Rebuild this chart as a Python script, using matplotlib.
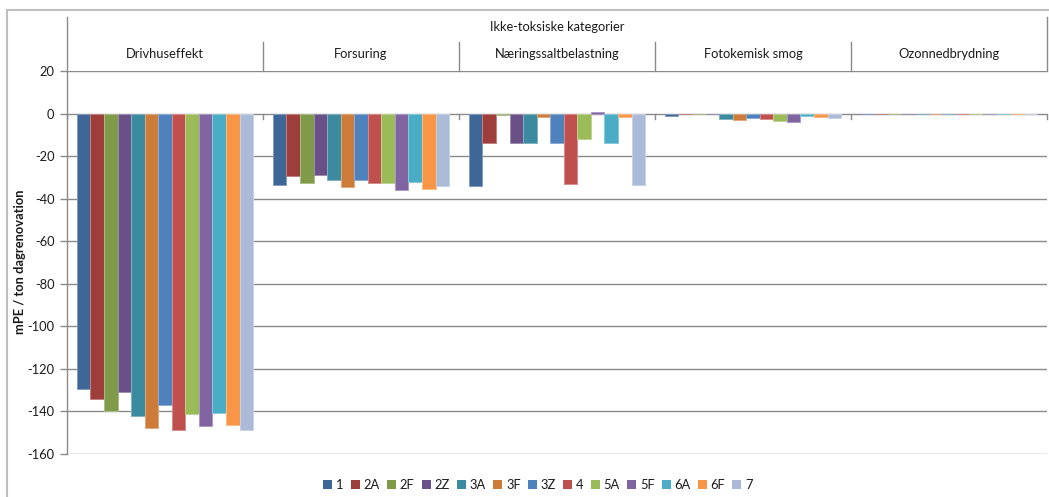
import matplotlib
matplotlib.use("Agg")
import matplotlib.pyplot as plt
from matplotlib.lines import Line2D
from matplotlib.patches import Rectangle, Patch
import matplotlib.transforms as mtransforms
import numpy as np

plt.rcParams['font.family'] = ['Lato', 'DejaVu Sans']

# ---- data -------------------------------------------------------------
group_title = "Ikke-toksiske kategorier"
categories = ["Drivhuseffekt", "Forsuring", "Næringssaltbelastning",
              "Fotokemisk smog", "Ozonnedbrydning"]
scenarios = ["1", "2A", "2F", "2Z", "3A", "3F", "3Z", "4", "5A", "5F",
             "6A", "6F", "7"]

drivhuseffekt = [-129.5, -134.2, -140.0, -130.7, -142.0, -147.6, -137.0,
                 -148.6, -141.1, -147.0, -140.6, -146.5, -148.6]
forsuring = [-33.5, -29.3, -32.6, -29.1, -31.2, -34.6, -31.0,
             -32.6, -32.6, -36.1, -32.1, -35.6, -34.0]
naeringssalt = [-34.0, -14.0, -0.8, -14.0, -14.0, -1.4, -14.0,
                -33.1, -12.0, 0.9, -14.0, -1.4, -33.5]
fotokemisk_smog = [-1.1, -0.4, -0.4, -0.4, -2.7, -3.1, -2.2,
                   -2.7, -3.6, -4.1, -1.2, -1.7, -2.2]
ozonnedbrydning = [-0.4, -0.4, -0.4, -0.4, -0.4, -0.4, -0.4,
                   -0.4, -0.4, -0.4, -0.4, -0.4, -0.4]

y_ticks = [20, 0, -20, -40, -60, -80, -100, -120, -140, -160]
y_label = "mPE / ton dagrenovation"

# ---- styling ----------------------------------------------------------
colors = ["#3E6697", "#9E3E3B", "#7F9A48", "#695087", "#3B8AA0", "#CC7B38",
          "#4F81BD", "#C0504D", "#9BBB59", "#8064A2", "#4BACC6", "#F79646",
          "#AABAD7"]
grid_col = "#8A8A8A"
frame_col = "#BFBFBF"
text_col = "#1A1A1A"
fs = 9.3

W, H = 1049, 497
fig = plt.figure(figsize=(W / 100, H / 100), dpi=100)

def fx(px):
    return px / W

def fy(py):
    return 1 - py / H

# plot area in pixels
x0, x1 = 67, 1047
y_top, y_bot = 71, 454
ax = fig.add_axes([fx(x0), fy(y_bot), fx(x1) - fx(x0), fy(y_top) - fy(y_bot)])

values = np.array([drivhuseffekt, forsuring, naeringssalt,
                   fotokemisk_smog, ozonnedbrydning]).T  # scenarios x categories
n_cat = len(categories)
n_ser = len(scenarios)
pad = 0.05
bw = (1 - 2 * pad) / n_ser
base = np.arange(n_cat)

ax.set_xlim(0, n_cat)
ax.set_ylim(-160, 20)

# gridlines
for t in y_ticks:
    ax.axhline(t, color=grid_col, lw=1.0, zorder=0)

for i, (name, col) in enumerate(zip(scenarios, colors)):
    rgb = np.array(matplotlib.colors.to_rgb(col))
    edge = tuple(rgb + (1 - rgb) * 0.35)
    ax.bar(base + pad + i * bw, values[i], width=bw, align="edge",
           color=col, edgecolor=edge, linewidth=0.7, label=name, zorder=2)

for s in ax.spines.values():
    s.set_visible(False)
ax.set_xticks([])
ax.set_yticks(y_ticks)
ax.set_yticklabels([str(t) for t in y_ticks], fontsize=fs, color=text_col)
ax.tick_params(axis="y", length=5, width=1.0, color=grid_col, pad=4)

# category axis at zero: tick marks between categories
for b in range(n_cat + 1):
    ax.plot([b, b], [0, -2.4], color=grid_col, lw=1.0, zorder=3, clip_on=False)

# header: vertical axis line and category separators
bt = mtransforms.blended_transform_factory(ax.transData, fig.transFigure)
fig.add_artist(Line2D([fx(x0), fx(x0)], [fy(17), fy(y_bot)],
                      transform=fig.transFigure, color=grid_col, lw=1.0))
fig.add_artist(Line2D([fx(x1), fx(x1)], [fy(17), fy(y_top)],
                      transform=fig.transFigure, color=grid_col, lw=1.0))
for b in range(1, n_cat):
    fig.add_artist(Line2D([b, b], [fy(42), fy(y_top)], transform=bt,
                          color=grid_col, lw=1.0))
for c, name in enumerate(categories):
    fig.text(c + 0.5, fy(54), name, transform=bt, ha="center", va="center",
             fontsize=fs, color=text_col)
fig.text((fx(x0) + fx(x1)) / 2, fy(27), group_title, ha="center",
         va="center", fontsize=fs, color=text_col)

# y-axis title
fig.text(fx(20), fy(262), y_label, rotation=90, ha="center", va="center",
         fontsize=fs, fontweight="bold", color=text_col)

# chart frame
fig.add_artist(Rectangle((fx(7), fy(H + 5)), fx(W + 10) - fx(7),
                         fy(10) - fy(H + 5), transform=fig.transFigure,
                         fill=False, edgecolor=frame_col, lw=1.5))

# legend
handles = [Patch(facecolor=c, edgecolor="none") for c in colors]
fig.legend(handles, scenarios, loc="center", bbox_to_anchor=(fx(538), fy(485)),
           ncol=n_ser, frameon=False, fontsize=fs, handlelength=0.7,
           handleheight=0.7, handletextpad=0.3, columnspacing=0.55,
           borderaxespad=0, labelcolor=text_col)

fig.savefig("out.png", dpi=100)
